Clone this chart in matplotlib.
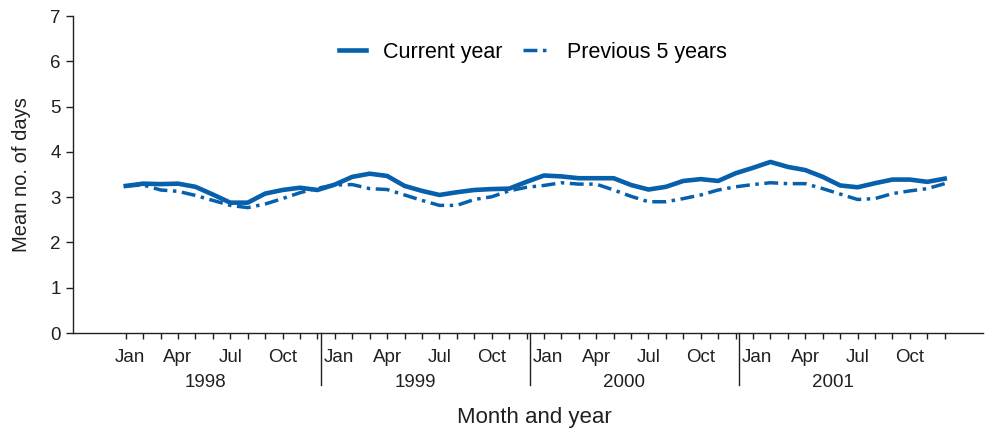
import numpy as np
import matplotlib
matplotlib.use('Agg')
import matplotlib.pyplot as plt
from matplotlib.transforms import blended_transform_factory

plt.rcParams['font.family'] = ['Liberation Sans', 'DejaVu Sans']

#   数据：1998-2001 每月均值
years = ['1998', '1999', '2000', '2001']
month_names = ['Jan', 'Apr', 'Jul', 'Oct']

current_year = [
    3.25, 3.30, 3.29, 3.30, 3.23, 3.06, 2.88, 2.88, 3.08, 3.16, 3.21, 3.16,
    3.28, 3.45, 3.52, 3.47, 3.25, 3.14, 3.05, 3.11, 3.16, 3.18, 3.19, 3.34,
    3.48, 3.46, 3.42, 3.42, 3.42, 3.27, 3.17, 3.23, 3.36, 3.40, 3.36, 3.53,
    3.65, 3.78, 3.67, 3.60, 3.45, 3.26, 3.22, 3.31, 3.39, 3.39, 3.34, 3.41,
]
previous_5 = [
    3.25, 3.27, 3.16, 3.13, 3.04, 2.93, 2.82, 2.77, 2.85, 2.97, 3.10, 3.20,
    3.27, 3.28, 3.19, 3.17, 3.05, 2.93, 2.82, 2.82, 2.95, 3.01, 3.14, 3.22,
    3.26, 3.32, 3.29, 3.29, 3.16, 3.02, 2.90, 2.90, 2.97, 3.05, 3.16, 3.23,
    3.28, 3.32, 3.30, 3.30, 3.19, 3.07, 2.95, 2.97, 3.08, 3.14, 3.19, 3.30,
]

blue = '#0760ac'
ink = '#231f20'

fig = plt.figure(figsize=(9.85, 4.34), dpi=100)
ax = fig.add_axes([0.0746, 0.2327, 0.9234, 0.730])

months = np.arange(len(current_year))
ax.plot(months, current_year, color=blue, lw=3.3, solid_joinstyle='round',
        label='Current year')
ax.plot(months, previous_5, color=blue, lw=2.5, dashes=(4, 1.6, 1, 1.6),
        label='Previous 5 years')

ax.set_xlim(-3.0, 49.2)
ax.set_ylim(0, 7)
ax.set_yticks(range(8))
ax.tick_params(axis='y', direction='out', length=5, width=1, labelsize=13.5,
               colors=ink, pad=4)

#   每月一个刻度，标签另外用 text 画（Jan 稍微右移，避开年份分隔线）
ax.set_xticks(months)
ax.set_xticklabels([])
ax.tick_params(axis='x', direction='out', length=4, width=1, colors=ink)

for s in ['top', 'right']:
    ax.spines[s].set_visible(False)
for s in ['left', 'bottom']:
    ax.spines[s].set_color(ink)
    ax.spines[s].set_linewidth(1)

trans = blended_transform_factory(ax.transData, ax.transAxes)
for i, yr in enumerate(years):
    for j, name in enumerate(month_names):
        shift = 0.25 if j == 0 else 0.0
        ax.text(i * 12 + j * 3 + shift, -0.0915, name, transform=trans,
                ha='center', va='baseline', fontsize=13.5, color=ink)
    ax.text(i * 12 + 4.6, -0.170, yr, transform=trans, ha='center',
            va='baseline', fontsize=13.5, color=ink)
    if i > 0:
        x = i * 12 - 0.82
        ax.plot([x, x], [0, -0.165], transform=trans, color=ink, lw=1,
                clip_on=False)

ax.set_ylabel('Mean no. of days', fontsize=14.5, color=ink)
ax.yaxis.set_label_coords(-0.047, 0.5)
fig.text(534 / 985, 1 - 418 / 434, 'Month and year', ha='center', va='center',
         fontsize=16, color=ink)

ax.legend(loc='center', bbox_to_anchor=(0.5 + 5 / 909, 1 - 36 / 317), ncol=2,
          frameon=False, fontsize=15.5, handlelength=1.25, columnspacing=0.95,
          handletextpad=0.8)

plt.savefig('out.png', dpi=100)
